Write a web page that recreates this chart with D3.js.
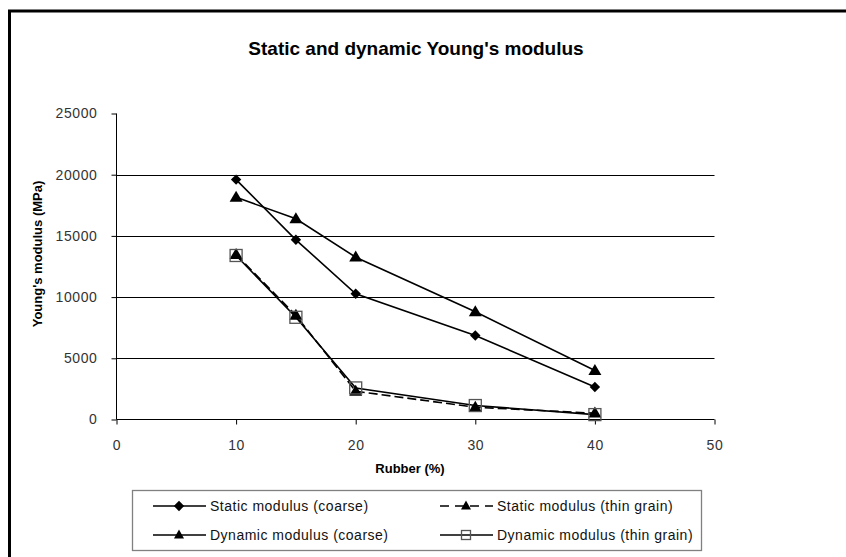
<!DOCTYPE html>
<html><head><meta charset="utf-8">
<script src="https://cdn.jsdelivr.net/npm/d3@7/dist/d3.min.js"></script>
<style>
body{margin:0;background:#fff;}
text{font-family:"Liberation Sans",Arial,sans-serif;}
</style></head>
<body><svg id="c" width="846" height="557"></svg>
<script>
const rubber = [10, 15, 20, 30, 40];
const staticCoarse = [19600, 14680, 10270, 6860, 2650];
const dynamicCoarse = [18150, 16400, 13260, 8800, 4000];
const staticThin = [13480, 8500, 2310, 1000, 515];
const dynamicThin = [13400, 8350, 2580, 1140, 400];
const xTicks = [0, 10, 20, 30, 40, 50];
const yTicks = [0, 5000, 10000, 15000, 20000, 25000];
const seriesNames = ["Static modulus (coarse)", "Static modulus (thin grain)", "Dynamic modulus (coarse)", "Dynamic modulus (thin grain)"];

const svg = d3.select("#c");
// frame
svg.append("path").attr("d","M9.5,557 V11 H846").attr("fill","none").attr("stroke","#000").attr("stroke-width",3);

const x = d3.scaleLinear().domain([0,50]).range([116.5,714.5]);
const y = d3.scaleLinear().domain([0,25000]).range([419.5,113.5]);

// title
svg.append("text").attr("x",416).attr("y",55).attr("text-anchor","middle")
  .attr("font-size",19).attr("font-weight","bold").text("Static and dynamic Young's modulus");

// gridlines
svg.append("g").selectAll("line").data(yTicks.filter(d=>d>0 && d<25000)).join("line")
  .attr("x1",x(0)).attr("x2",x(50)).attr("y1",d=>Math.round(y(d))+0.5).attr("y2",d=>Math.round(y(d))+0.5)
  .attr("stroke","#000").attr("stroke-width",1);

// axes
const yAxis = d3.axisLeft(y).tickValues(yTicks).tickSize(5).tickPadding(14).tickFormat(d3.format("d"));
const gy = svg.append("g").attr("transform",`translate(${x(0)},0)`).call(yAxis);
const xAxis = d3.axisBottom(x).tickValues(xTicks).tickSize(5).tickPadding(16).tickFormat(d3.format("d"));
const gx = svg.append("g").attr("transform",`translate(0,${y(0)})`).call(xAxis);
[gx,gy].forEach(g=>{
  g.select(".domain").attr("stroke","#000").attr("d", g===gx ? `M${x(0)},0H${x(50)}` : `M0,${y(25000)}V${y(0)}`);
  g.selectAll(".tick line").attr("stroke","#000");
  g.selectAll(".tick text").attr("font-size",14).attr("fill","#333").attr("letter-spacing","0.6px")
   .attr("font-family","'Liberation Sans',Arial,sans-serif");
});

// axis titles
svg.append("text").attr("x",410).attr("y",473).attr("text-anchor","middle")
  .attr("font-size",13).attr("font-weight","bold").text("Rubber (%)");
svg.append("text").attr("transform","translate(42,254) rotate(-90)").attr("text-anchor","middle")
  .attr("font-size",13).attr("font-weight","bold").text("Young's modulus (MPa)");

// markers
function marker(g, type, cx, cy, big){
  if(type==="diamond"){
    const s = 5.2;
    g.append("path").attr("d",`M${cx},${cy-s}L${cx+s},${cy}L${cx},${cy+s}L${cx-s},${cy}Z`).attr("fill","#000");
  } else if(type==="triangle"){
    const w = big?6.5:5, h = big?11:9;
    g.append("path").attr("d",`M${cx},${cy-h*0.6}L${cx+w},${cy+h*0.4}L${cx-w},${cy+h*0.4}Z`).attr("fill","#000");
  } else if(type==="square"){
    const s = big?6:4.5;
    g.append("rect").attr("x",cx-s).attr("y",cy-s).attr("width",2*s).attr("height",2*s)
      .attr("fill","none").attr("stroke","#555").attr("stroke-width",1.3);
  }
}

const series = [
  {name:seriesNames[0], vals:staticCoarse, m:"diamond", dash:null},
  {name:seriesNames[1], vals:staticThin, m:"triangle", dash:"9,4"},
  {name:seriesNames[2], vals:dynamicCoarse, m:"triangle", dash:null},
  {name:seriesNames[3], vals:dynamicThin, m:"square", dash:null}
];
const line = d3.line().x(d=>x(d[0])).y(d=>y(d[1]));
const plot = svg.append("g");
[0,2,3,1].forEach(i=>{
  const s = series[i];
  const pts = rubber.map((r,j)=>[r,s.vals[j]]);
  plot.append("path").attr("d",line(pts)).attr("fill","none").attr("stroke","#000")
    .attr("stroke-width",1.6).attr("stroke-dasharray",s.dash);
});
[0,2,1,3].forEach(i=>{
  const s = series[i];
  rubber.forEach((r,j)=>marker(plot, s.m, x(r), y(s.vals[j]), true));
});

// legend
const lg = svg.append("g");
lg.append("rect").attr("x",132.5).attr("y",490.5).attr("width",569).attr("height",60)
  .attr("fill","#fff").attr("stroke","#808080").attr("stroke-width",1.3);
const pos = [[153,506],[440,506],[153,535],[440,535]];
series.forEach((s,i)=>{
  const [lx,ly] = pos[i];
  lg.append("line").attr("x1",lx).attr("x2",lx+53).attr("y1",ly).attr("y2",ly)
    .attr("stroke","#000").attr("stroke-width",1.6).attr("stroke-dasharray", s.dash?"9,6":null);
  marker(lg, s.m, lx+26, ly, false);
  lg.append("text").attr("x",lx+57).attr("y",ly+5).attr("font-size",14).attr("letter-spacing","0.5px")
    .attr("fill","#111").text(s.name);
});
</script></body></html>
